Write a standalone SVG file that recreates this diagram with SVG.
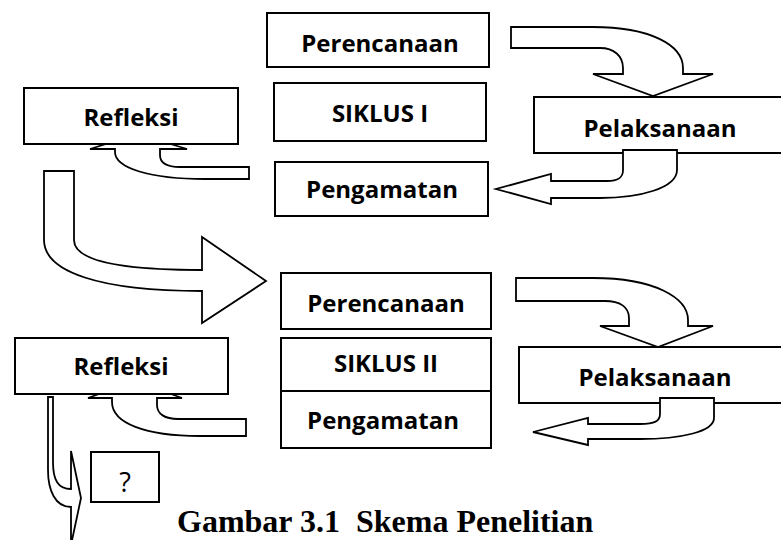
<svg xmlns="http://www.w3.org/2000/svg" width="781" height="540" viewBox="0 0 781 540">
<style>
.box{fill:#fff;stroke:#000;stroke-width:2}
.arr{fill:#fff;stroke:#000;stroke-width:1.8;stroke-linejoin:miter}
.lbl{font-family:"Open Sans","Noto Sans",sans-serif;font-weight:700;font-size:24px;text-anchor:middle;fill:#000}
.q{font-family:"Open Sans","Noto Sans",sans-serif;font-weight:400;font-size:27px;text-anchor:middle;fill:#000}
.cap{font-family:"Liberation Serif","Times New Roman",serif;font-weight:700;font-size:32px;fill:#000;white-space:pre}
</style>
<rect width="781" height="540" fill="#fff"/>
<g id="connectors">
<path class="arr" d="M511,27 L593,27 C650,27 683,45 683,68 L683,74 L713,74 L653,96 L593,74 L623,74 L623,68 C623,56 614,48 600,48 L511,48 Z"/>
<path class="arr" d="M138,134 L187,149 L160,149 L160,155 C160,163 167,167 180,167 L249,167 L249,179 L205,179 C150,179 115,168 115,152 L115,149 L90,149 Z"/>
<path class="arr" d="M44,171 L74,171 L74,240 C74,258 110,270 202,270 L202,237 L266,281 L202,323 L202,291 C100,291 44,272 44,240 Z"/>
<path class="arr" d="M516,278 L593,278 C655,278 688,298 688,320 L688,326 L713,326 L658,347 L600,326 L629,326 L629,318 C629,307 620,301 605,301 L516,301 Z"/>
<path class="arr" d="M135,381 L182,398 L157,398 L157,405 C157,414 165,419 178,419 L246,419 L246,436 L200,436 C145,436 112,423 112,402 L112,398 L88,398 Z"/>
<path class="arr" d="M48,397 L53,397 L53,462 C53,480 58,489 71,489 L71,451 L81,498 L71,545 L71,507 C55,507 48,490 48,470 Z"/>
</g>
<g id="perencanaan1"><rect class="box" x="267" y="13" width="222" height="54"/><text class="lbl" x="380" y="52">Perencanaan</text></g>
<g id="siklus1"><rect class="box" x="274" y="83" width="212" height="58"/><text class="lbl" x="380" y="122">SIKLUS I</text></g>
<g id="pengamatan1"><rect class="box" x="275" y="162" width="213" height="54"/><text class="lbl" x="382" y="198">Pengamatan</text></g>
<g id="pelaksanaan1"><rect class="box" x="534" y="97" width="260" height="56"/><text class="lbl" x="660" y="137">Pelaksanaan</text></g>
<g id="arrow-pel1"><path class="arr" d="M623,150 L677,150 L677,170 C677,188 640,198 600,198 L551,198 L551,204 L496,189 L551,174 L551,181 L607,181 C618,181 623,178 623,170 Z"/></g>
<g id="refleksi1"><rect class="box" x="24" y="88" width="214" height="56"/><text class="lbl" x="131" y="126">Refleksi</text></g>
<g id="perencanaan2"><rect class="box" x="281" y="273" width="210" height="56"/><text class="lbl" x="386" y="312">Perencanaan</text></g>
<g id="siklus2"><rect class="box" x="281" y="338" width="210" height="53"/><text class="lbl" x="386" y="372">SIKLUS II</text></g>
<g id="pengamatan2"><rect class="box" x="281" y="391" width="210" height="57"/><text class="lbl" x="383" y="429">Pengamatan</text></g>
<g id="pelaksanaan2"><rect class="box" x="519" y="347" width="270" height="56"/><text class="lbl" x="655" y="386">Pelaksanaan</text></g>
<g id="arrow-pel2"><path class="arr" d="M660,398 L714,398 L714,418 C714,432 680,439 640,439 L588,439 L588,445 L533,432 L588,418 L588,424 L640,424 C655,424 660,421 660,414 Z"/></g>
<g id="refleksi2"><rect class="box" x="15" y="338" width="213" height="56"/><text class="lbl" x="121" y="375">Refleksi</text></g>
<g id="question"><rect class="box" x="91" y="452" width="68" height="50"/><text class="q" x="125" y="492">?</text></g>
<text class="cap" x="177" y="532">Gambar 3.1  Skema Penelitian</text>
</svg>
